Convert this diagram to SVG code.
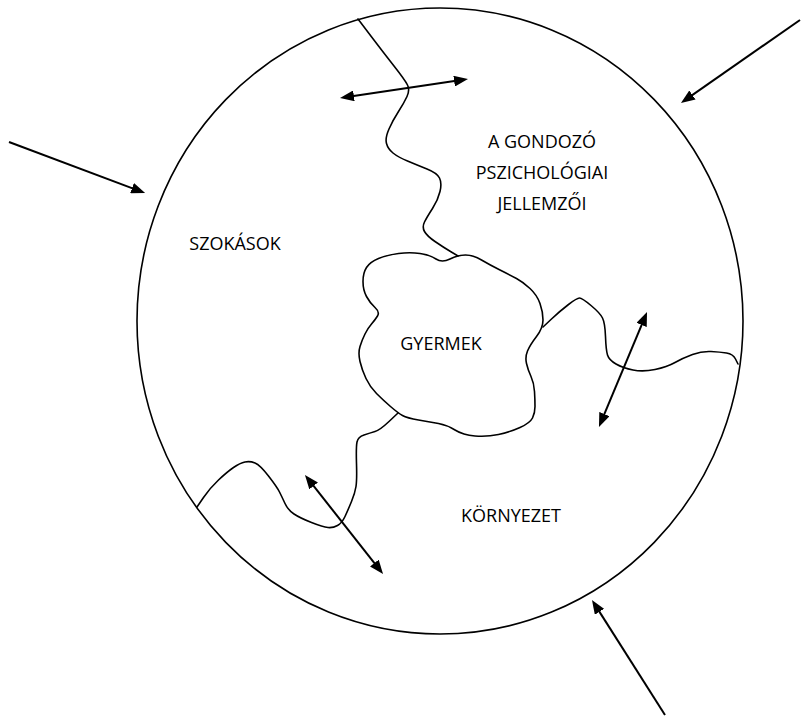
<svg xmlns="http://www.w3.org/2000/svg" width="812" height="726" viewBox="0 0 812 726">
<style>
.b{fill:none;stroke:#000;stroke-width:1.6;stroke-linejoin:round;stroke-linecap:round}
.a{fill:none;stroke:#000;stroke-width:2}
.t{font-family:"Open Sans","Liberation Sans",sans-serif;font-size:18px;fill:#000;text-anchor:middle}
</style>
<defs>
<marker id="ah" viewBox="0 0 14 11" markerWidth="14" markerHeight="11" markerUnits="userSpaceOnUse" refX="2" refY="5.5" orient="auto-start-reverse">
<path d="M0,0 L14,5.5 L0,11 z" fill="#000"/>
</marker>
</defs>
<rect width="812" height="726" fill="#fff"/>
<g id="world">
<ellipse cx="440" cy="321" rx="303" ry="313" class="b" stroke-width="1.8"/>
</g>
<g id="dividers">
<path class="b" d="M358,19 L370.5,35.5 Q383,52 394,66 Q405,80 407.5,85 Q410,90 407,96.5 Q404,103 398.5,111.5 Q393,120 389,129 Q385,138 386.5,143.5 Q388,149 393,153 Q398,157 407.5,161 Q417,165 427,169 Q437,173 439.5,178 Q442,183 440,191.5 Q438,200 432.5,208.5 Q427,217 424.5,222 Q422,227 424.5,231.5 Q427,236 435,241.5 Q443,247 450.5,251.5 L458,256"/>
<path class="b" d="M543,327 L551.5,319 Q560,311 568.5,304.5 Q577,298 579.5,298 Q582,298 591,305.5 Q600,313 602.5,318 Q605,323 605.5,336.5 Q606,350 607.5,355 Q609,360 616,364 Q623,368 633,370 Q643,372 655,369.5 Q667,367 675,362.5 Q683,358 692.5,354.5 Q702,351 711,351.5 Q720,352 726.5,353 Q733,354 735.5,359 L738,364"/>
<path class="b" d="M398,413 L389,421.5 Q380,430 375,431.5 Q370,433 364,435 Q358,437 357,442 Q356,447 356.5,463.5 Q357,480 356,486.5 Q355,493 351.5,501.5 Q348,510 345,516.5 Q342,523 337.5,525.5 Q333,528 328,527.5 Q323,527 311.5,522.5 Q300,518 294,514 Q288,510 285,503.5 Q282,497 279.5,492 Q277,487 268.5,476 Q260,465 255,463 Q250,461 245,462 Q240,463 233.5,467.5 Q227,472 218.5,480 Q210,488 203.5,497.5 L197,507"/>
</g>
<g id="gyermek">
<path class="b" d="M450,259 Q458,255 465.5,255 Q473,255 481.5,260 Q490,265 500,270 Q510,275 516.5,278.5 Q523,282 530,288.5 Q537,295 540,303.5 Q543,312 543,320 Q543,328 536.5,336.5 Q530,345 527.5,351 Q525,357 526.5,363.5 Q528,370 531,376.5 Q534,383 534.5,391.5 Q535,400 535,406.5 Q535,413 532.5,418 Q530,423 520,427.5 Q510,432 498.5,434.5 Q487,437 475,436 Q463,435 455,430 Q447,425 438.5,423.5 Q430,422 418.5,420 Q407,418 402.5,415.5 Q398,413 390.5,406.5 Q383,400 376.5,393.5 Q370,387 366,378.5 Q362,370 360,361.5 Q358,353 360,346.5 Q362,340 365,334 Q368,328 371.5,324 Q375,320 377.5,316 Q380,312 375,307.5 Q370,303 366.5,296.5 Q363,290 363,281.5 Q363,273 366.5,267.5 Q370,262 378.5,258.5 Q387,255 398.5,253.5 Q410,252 420,253.5 Q430,255 436,259 Q442,263 450,259 Z"/>
<text class="t" x="441" y="350">GYERMEK</text>
</g>
<g id="gondozo">
<text class="t" x="542" y="148">A GONDOZÓ</text>
<text class="t" x="542" y="179">PSZICHOLÓGIAI</text>
<text class="t" x="542" y="210">JELLEMZŐI</text>
</g>
<g id="szokasok">
<text class="t" x="235" y="250">SZOKÁSOK</text>
</g>
<g id="kornyezet">
<text class="t" x="511" y="522">KÖRNYEZET</text>
</g>
<g id="connectors">
<line class="a" x1="9" y1="142" x2="133.9" y2="188.9" marker-end="url(#ah)"/>
<line class="a" x1="800" y1="20" x2="690.8" y2="96.1" marker-end="url(#ah)"/>
<line class="a" x1="665" y1="715" x2="598.4" y2="610.1" marker-end="url(#ah)"/>
<line class="a" x1="351.9" y1="96.2" x2="456.1" y2="80.8" marker-start="url(#ah)" marker-end="url(#ah)"/>
<line class="a" x1="312.4" y1="484.4" x2="375.6" y2="564.6" marker-start="url(#ah)" marker-end="url(#ah)"/>
<line class="a" x1="642.4" y1="323.1" x2="603.6" y2="415.9" marker-start="url(#ah)" marker-end="url(#ah)"/>
</g>
</svg>
